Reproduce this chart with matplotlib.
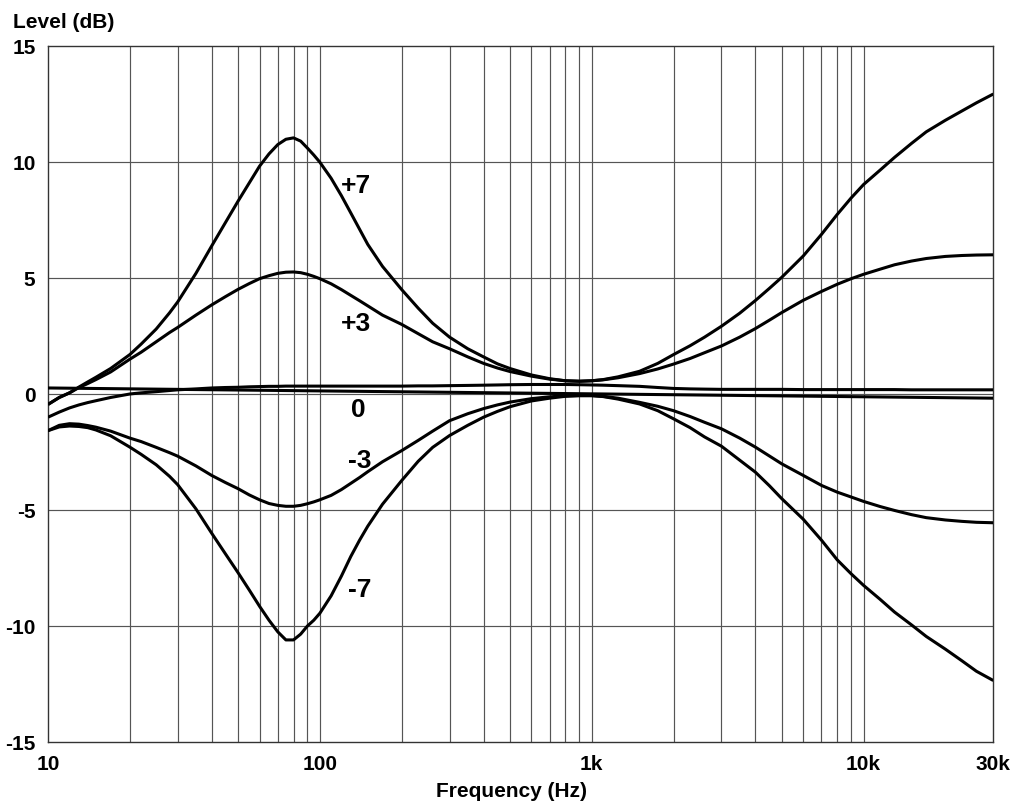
import matplotlib
matplotlib.use("Agg")
import matplotlib.pyplot as plt
from matplotlib.ticker import FixedLocator, NullLocator

plt.rcParams['font.family'] = ['Liberation Sans', 'DejaVu Sans']
plt.rcParams['font.weight'] = 'bold'

# ---- data ----
freq = [10, 11, 12, 13, 14, 15, 17, 20, 22, 25, 28, 30, 35, 40, 45, 50, 55, 60, 65, 70,
        75, 80, 85, 90, 95, 100, 110, 120, 130, 140, 150, 170, 200, 230, 260, 300, 350,
        400, 450, 500, 600, 700, 800, 900, 1000, 1100, 1250, 1500, 1750, 2000, 2300,
        2600, 3000, 3500, 4000, 4500, 5000, 6000, 7000, 8000, 9000, 10000, 11500,
        13000, 15000, 17000, 20000, 23000, 26000, 30000]

plus7 = [-0.45, -0.15, 0.05, 0.3, 0.52, 0.72, 1.1, 1.7, 2.15, 2.8, 3.5, 3.97, 5.2, 6.38,
         7.4, 8.31, 9.1, 9.82, 10.35, 10.75, 10.98, 11.04, 10.9, 10.6, 10.3, 9.99, 9.3,
         8.55, 7.8, 7.1, 6.45, 5.5, 4.5, 3.7, 3.05, 2.45, 1.95, 1.6, 1.3, 1.1, 0.82, 0.66,
         0.57, 0.55, 0.57, 0.62, 0.74, 0.98, 1.32, 1.7, 2.08, 2.45, 2.92, 3.48, 4.03, 4.55,
         5.03, 5.95, 6.88, 7.74, 8.45, 9.03, 9.65, 10.2, 10.8, 11.3, 11.8, 12.2, 12.55,
         12.93]

plus3 = [-0.45, -0.15, 0.05, 0.28, 0.45, 0.62, 0.95, 1.5, 1.8, 2.25, 2.65, 2.87, 3.4, 3.84,
         4.2, 4.51, 4.76, 4.97, 5.1, 5.2, 5.25, 5.26, 5.23, 5.16, 5.07, 4.97, 4.75, 4.5,
         4.25, 4.02, 3.8, 3.4, 3.0, 2.6, 2.25, 1.95, 1.6, 1.32, 1.12, 0.97, 0.77, 0.64,
         0.57, 0.55, 0.57, 0.61, 0.7, 0.88, 1.08, 1.29, 1.53, 1.78, 2.07, 2.45, 2.82, 3.18,
         3.51, 4.04, 4.42, 4.73, 4.97, 5.16, 5.38, 5.57, 5.73, 5.84, 5.93, 5.97, 5.99, 6.0]

zero = [-1.0, -0.78, -0.6, -0.47, -0.37, -0.29, -0.15, 0.0, 0.05, 0.1, 0.15, 0.18, 0.22,
        0.26, 0.28, 0.29, 0.31, 0.32, 0.33, 0.33, 0.34, 0.34, 0.34, 0.34, 0.34, 0.34, 0.34,
        0.34, 0.34, 0.34, 0.34, 0.34, 0.34, 0.35, 0.35, 0.36, 0.37, 0.38, 0.39, 0.4, 0.41,
        0.41, 0.41, 0.4, 0.39, 0.38, 0.36, 0.33, 0.28, 0.24, 0.22, 0.21, 0.2, 0.2, 0.2,
        0.2, 0.2, 0.19, 0.19, 0.19, 0.19, 0.19, 0.19, 0.19, 0.18, 0.18, 0.18, 0.18, 0.18,
        0.18]

minus3 = [-1.58, -1.35, -1.28, -1.3, -1.36, -1.43, -1.6, -1.9, -2.05, -2.3, -2.53, -2.68,
          -3.1, -3.51, -3.82, -4.08, -4.35, -4.56, -4.72, -4.8, -4.84, -4.84, -4.8, -4.73,
          -4.65, -4.56, -4.37, -4.12, -3.85, -3.6, -3.35, -2.92, -2.44, -2.0, -1.6, -1.15,
          -0.85, -0.63, -0.47, -0.35, -0.2, -0.12, -0.08, -0.07, -0.07, -0.1, -0.18, -0.36,
          -0.53, -0.72, -0.97, -1.22, -1.5, -1.9, -2.29, -2.67, -3.01, -3.51, -3.94, -4.23,
          -4.44, -4.63, -4.85, -5.02, -5.2, -5.33, -5.43, -5.49, -5.53, -5.55]

minus7 = [-1.58, -1.42, -1.38, -1.4, -1.45, -1.55, -1.8, -2.29, -2.6, -3.05, -3.55, -3.91,
          -4.95, -6.0, -6.9, -7.7, -8.45, -9.15, -9.75, -10.25, -10.6, -10.6, -10.35, -10.0,
          -9.75, -9.45, -8.7, -7.85, -7.0, -6.3, -5.7, -4.75, -3.73, -2.9, -2.3, -1.79,
          -1.35, -1.0, -0.75, -0.55, -0.3, -0.18, -0.1, -0.07, -0.07, -0.11, -0.22, -0.43,
          -0.72, -1.07, -1.45, -1.85, -2.25, -2.85, -3.37, -3.95, -4.51, -5.4, -6.3, -7.15,
          -7.75, -8.25, -8.85, -9.4, -9.95, -10.45, -11.0, -11.5, -11.95, -12.35]

flat_freq = [10, 30000]
flat_db = [0.26, -0.18]

curve_labels = ['+7', '+3', '0', '-3', '-7']

x_ticks = [10, 100, 1000, 10000, 30000]
x_ticklabels = ['10', '100', '1k', '10k', '30k']
y_ticks = [-15, -10, -5, 0, 5, 10, 15]

# ---- figure ----
W, H = 1014, 806
fig = plt.figure(figsize=(W / 100, H / 100), dpi=100)
L, R, T, B = 48, 993.3, 46, 742
ax = fig.add_axes([L / W, (H - B) / H, (R - L) / W, (B - T) / H])
ax.set_xscale('log')
ax.set_xlim(10, 30000)
ax.set_ylim(-15, 15)

grid_kw = dict(color='#555555', lw=0.85, zorder=1)
for dec in (10, 100, 1000):
    for m in range(2, 10):
        ax.axvline(dec * m, **grid_kw)
ax.axvline(100, **grid_kw)
ax.axvline(1000, **grid_kw)
ax.axvline(10000, **grid_kw)
for yv in y_ticks[1:-1]:
    ax.axhline(yv, **grid_kw)

line_kw = dict(color='black', lw=2.2, zorder=3, solid_capstyle='butt', solid_joinstyle='round')
ax.plot(flat_freq, flat_db, **line_kw)
for series in (plus7, plus3, zero, minus3, minus7):
    ax.plot(freq, series, **line_kw)

label_pos = [(136, 8.97), (136, 3.02), (139, -0.71), (140, -2.89), (140, -8.45)]
for txt, (lx, ly) in zip(curve_labels, label_pos):
    ax.text(lx, ly, txt, fontsize=19, fontweight='bold', ha='center', va='center', zorder=4)

ax.xaxis.set_major_locator(FixedLocator(x_ticks))
ax.xaxis.set_minor_locator(NullLocator())
ax.set_xticklabels(x_ticklabels)
ax.set_yticks(y_ticks)
ax.set_yticklabels([str(v) for v in y_ticks])
ax.tick_params(axis='both', length=0, labelsize=15)
ax.tick_params(axis='x', pad=9)
ax.tick_params(axis='y', pad=9)
for lab in ax.get_xticklabels() + ax.get_yticklabels():
    lab.set_fontweight('bold')

for s in ax.spines.values():
    s.set_color('#333333')
    s.set_linewidth(1.0)

fig.text(13 / W, 1 - 28 / H, 'Level (dB)', fontsize=15, fontweight='bold', ha='left', va='baseline')
fig.text(512 / W, 1 - 797 / H, 'Frequency (Hz)', fontsize=15, fontweight='bold', ha='center', va='baseline')

fig.savefig('out.png', dpi=100)
